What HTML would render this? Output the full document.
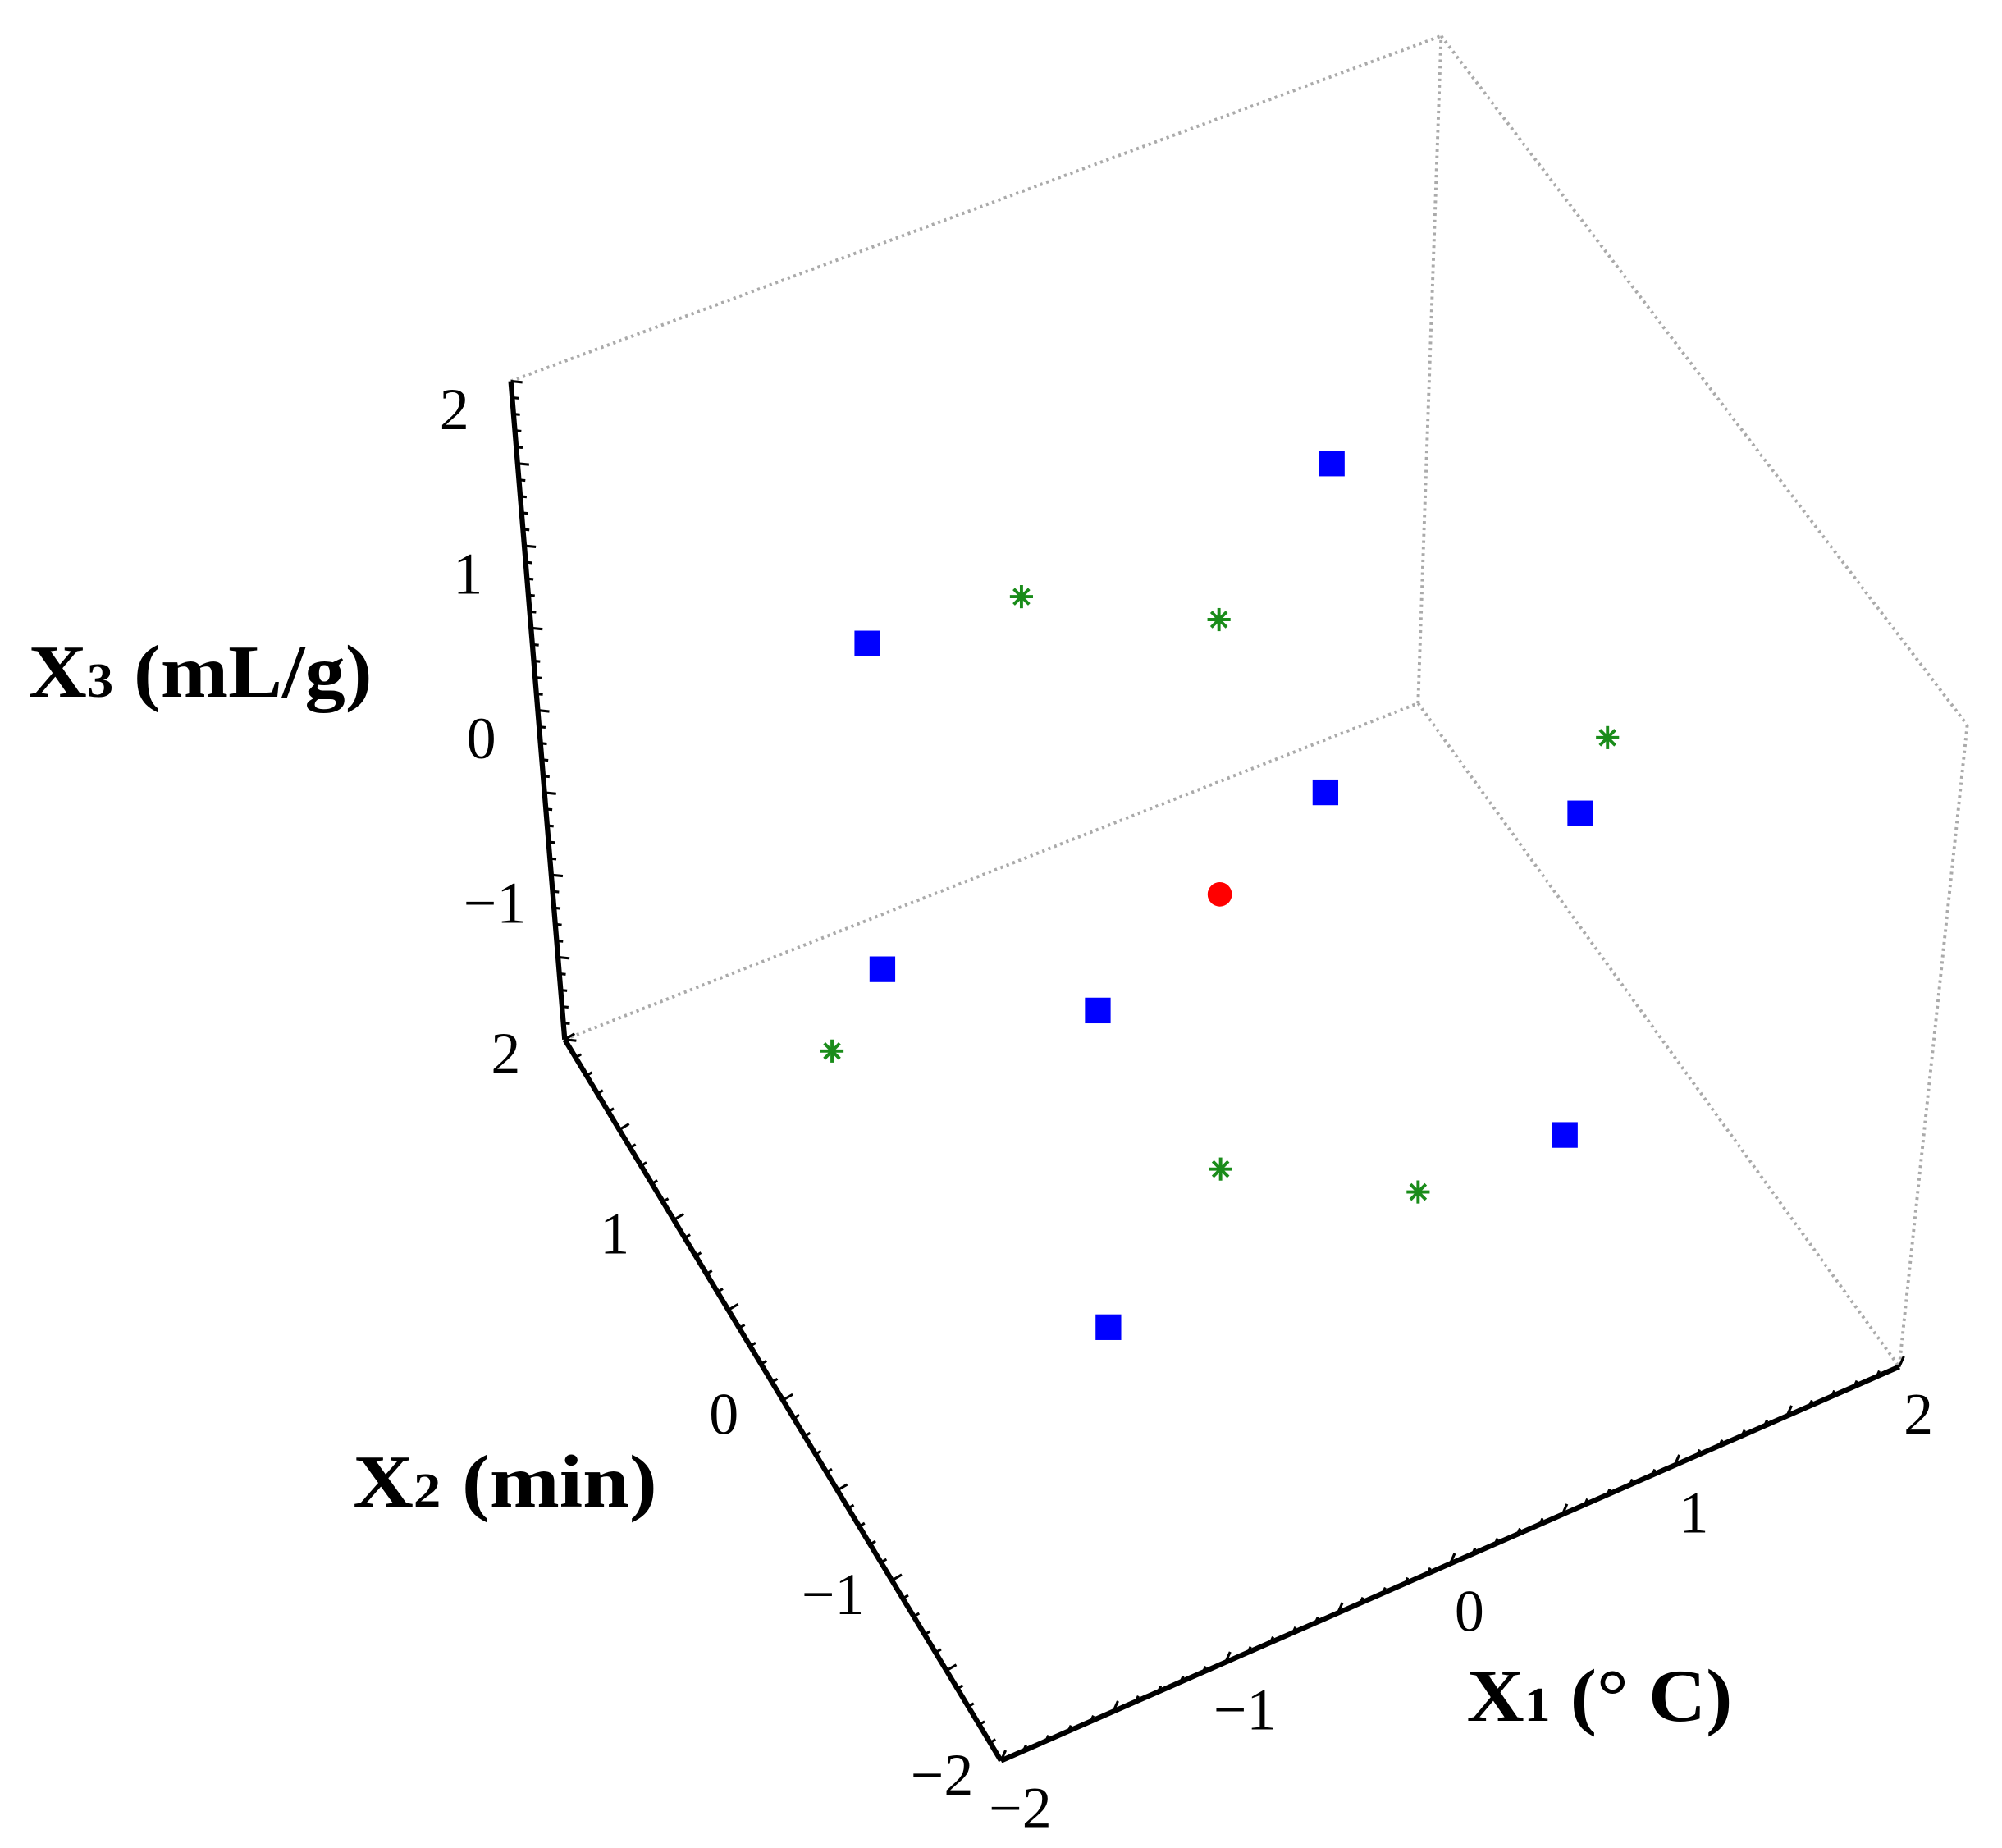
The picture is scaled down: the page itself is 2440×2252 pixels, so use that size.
<!DOCTYPE html>
<html><head><meta charset="utf-8"><style>
html,body{margin:0;padding:0;background:#fff;}
svg{display:block;}
text{font-family:"Liberation Serif",serif;fill:#000;}
</style></head><body>
<svg id="chart" width="2440" height="2252" viewBox="0 0 1560 1440" xmlns="http://www.w3.org/2000/svg">
<g id="box"></g>
<g id="axes"></g>
<g id="marks"></g>
<text x="22" y="543" font-size="58" font-weight="bold" textLength="268" lengthAdjust="spacingAndGlyphs">X<tspan font-size="38">3</tspan> (mL/g)</text>
<text x="275" y="1174" font-size="58" font-weight="bold" textLength="237" lengthAdjust="spacingAndGlyphs">X<tspan font-size="38">2</tspan> (min)</text>
<text x="1143" y="1341" font-size="58" font-weight="bold" textLength="207" lengthAdjust="spacingAndGlyphs">X<tspan font-size="38">1</tspan> (° C)</text>
</svg>
<script>
const tickValues = [-2, -1, 0, 1, 2];
const tickLabels = ["\u22122", "\u22121", "0", "1", "2"];
const factorialX1 = [1, -1, 1, 1, -1, -1, 1, -1];
const factorialX2 = [1, 1, 1, -1, 1, -1, -1, -1];
const factorialX3 = [1, 1, -1, 1, -1, 1, -1, -1];
const axialX1 = [0, 0, 1.68, -1.68, 0, 0];
const axialX2 = [0, 0, 0, 0, 1.68, -1.68];
const axialX3 = [1.7, -1.7, 0, 0, 0, 0];
const centerX1 = [0];
const centerX2 = [0];
const centerX3 = [0];

const C = {
  "-2,-2,-2":[780,1372], "2,-2,-2":[1480,1065], "-2,2,-2":[440,810], "2,2,-2":[1105,548],
  "-2,2,2":[398,297], "2,2,2":[1123,28], "2,-2,2":[1533,565], "-2,-2,2":[745,890]
};
function P(a,b,c){
  const u=(a+2)/4, v=(b+2)/4, w=(c+2)/4;
  let x=0,y=0;
  for(const i of [-2,2])for(const j of [-2,2])for(const k of [-2,2]){
    const wt=(i>0?u:1-u)*(j>0?v:1-v)*(k>0?w:1-w);
    const p=C[i+","+j+","+k]; x+=wt*p[0]; y+=wt*p[1];
  }
  return [x,y];
}
const NS="http://www.w3.org/2000/svg";
function mk(tag,attrs,parent){const e=document.createElementNS(NS,tag);for(const k in attrs)e.setAttribute(k,attrs[k]);parent.appendChild(e);return e;}
const box=document.getElementById('box'), axes=document.getElementById('axes'), marks=document.getElementById('marks');

const edges=[[[-2,2,-2],[2,2,-2]],[[2,2,-2],[2,-2,-2]],[[2,2,-2],[2,2,2]],[[-2,2,2],[2,2,2]],[[2,2,2],[2,-2,2]],[[2,-2,2],[2,-2,-2]]];
edges.forEach(ed=>{const a=P(...ed[0]),b=P(...ed[1]);
  const l=mk('line',{x1:a[0],y1:a[1],x2:b[0],y2:b[1],stroke:'#aaa','stroke-width':2.5,'stroke-dasharray':'2 3'},box);
  
  
});

function axis(name,f,perp,off){
  const a=f(-2),b=f(2);
  const l=mk('line',{x1:a[0],y1:a[1],x2:b[0],y2:b[1],stroke:'#000','stroke-width':4},axes);
  
  
  for(let t=-20;t<=20;t++){const v=t/10,p=f(v),len=(t%5===0)?9:5;
    const tk=mk('line',{x1:p[0],y1:p[1],x2:p[0]+perp[0]*len,y2:p[1]+perp[1]*len,stroke:'#000','stroke-width':2},axes);
    
    
  }
  tickValues.forEach((v,i)=>{
    if(name==='x3' && v===-2) return;
    const p=f(v);
    const t=mk('text',{x:p[0]+off[0],y:p[1]+off[1],'font-size':46,'text-anchor':'middle','dominant-baseline':'central'},axes);
    t.textContent=tickLabels[i];
    
    
  });
}
axis('x1',v=>P(v,-2,-2),[0.4,-0.9],[15,37]);
axis('x2',v=>P(-2,v,-2),[0.85,-0.5],[-46,11]);
axis('x3',v=>P(-2,2,v),[1,0.1],[-44,22]);

factorialX1.forEach((v,i)=>{const p=P(v,factorialX2[i],factorialX3[i]);
  const r=mk('rect',{x:p[0]-10,y:p[1]-10,width:20,height:20,fill:'#0000ff'},marks);
  
  
});
axialX1.forEach((v,i)=>{const p=P(v,axialX2[i],axialX3[i]);
  const g=mk('g',{stroke:'#1a8c1a','stroke-width':2.5},marks);
  
  
  [[-9,0,9,0],[0,-9,0,9],[-6,-6,6,6],[-6,6,6,-6]].forEach(s=>mk('line',{x1:p[0]+s[0],y1:p[1]+s[1],x2:p[0]+s[2],y2:p[1]+s[3]},g));
});
centerX1.forEach((v,i)=>{const p=P(v,centerX2[i],centerX3[i]);
  const c=mk('circle',{cx:p[0],cy:p[1],r:9.5,fill:'#ff0000'},marks);
  
  
});
</script>
</body></html>
